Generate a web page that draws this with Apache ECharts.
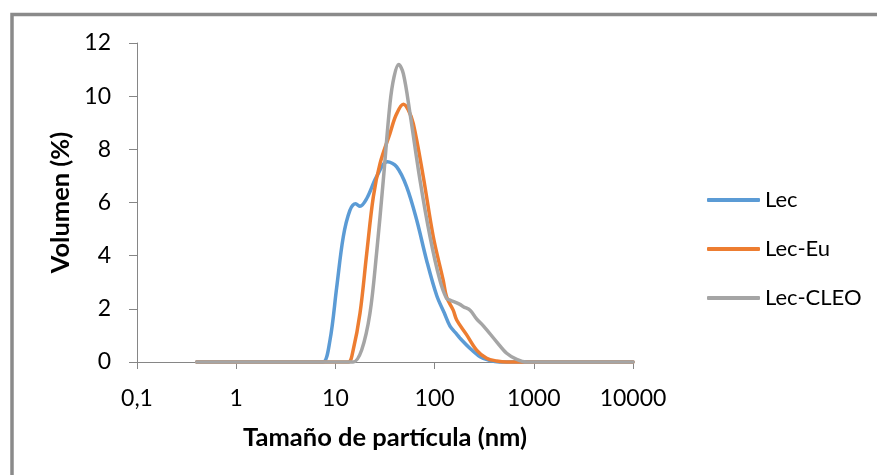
<!DOCTYPE html>
<html style="height: 100%">
<head>
<meta charset="utf-8">
<style type="text/css">
    body, html { width: 100%; height: 100%; margin: 0; overflow: hidden; background: #fff; }
    #chart { width: 877px; height: 475px; }
</style>
</head>
<body>
<div id="chart"></div>
<script type="text/javascript" src="https://cdn.jsdelivr.net/npm/echarts@6/dist/echarts.min.js"></script>
<script type="text/javascript">
// particle size (nm) / volume (%)
var lecX = [0.4, 1, 3, 6, 7.5, 8.8, 10.3, 12, 14, 16, 17.7, 20.7, 26, 33.4, 41.5, 52.3, 66, 83, 105, 125, 143, 167, 180, 228, 287, 362, 450, 700, 1000, 3000, 10000];
var lecY = [0, 0, 0, 0, 0, 0.8, 2.8, 4.7, 5.7, 5.95, 5.86, 6.15, 6.97, 7.53, 7.34, 6.59, 5.34, 3.83, 2.5, 1.85, 1.35, 1.05, 0.9, 0.51, 0.2, 0.05, 0, 0, 0, 0, 0];

var euX = [0.4, 1, 3, 6, 10, 13.5, 15.1, 17.7, 20.7, 24.1, 28.2, 35.5, 41, 48.4, 54, 61, 76.9, 97, 122, 132, 154, 167, 209, 265, 335, 422, 533, 1000, 3000, 10000];
var euY = [0, 0, 0, 0, 0, 0, 0.45, 1.83, 4.09, 6.21, 7.47, 8.6, 9.3, 9.7, 9.5, 8.97, 6.97, 4.71, 3.08, 2.45, 1.95, 1.58, 1.04, 0.45, 0.14, 0.04, 0, 0, 0, 0];

var cleoX = [0.4, 1, 3, 6, 10, 15.1, 18.4, 22.3, 26, 30.4, 35.5, 39, 43.4, 48.4, 56.5, 71.3, 90, 113, 132, 143, 180, 195, 228, 265, 310, 422, 533, 673, 849, 1000, 3000, 10000];
var cleoY = [0, 0, 0, 0, 0, 0, 0.45, 1.83, 4.09, 6.84, 9.72, 10.73, 11.19, 10.85, 9.35, 6.84, 4.71, 3.08, 2.39, 2.33, 2.17, 2.08, 1.95, 1.62, 1.36, 0.76, 0.33, 0.1, 0, 0, 0, 0];

var names = ['Lec', 'Lec-Eu', 'Lec-CLEO'];
var colors = ['#5B9BD5', '#ED7D31', '#A5A5A5'];

function pairs(xs, ys) {
    var out = [];
    for (var i = 0; i < xs.length; i++) out.push([xs[i], ys[i]]);
    return out;
}

var font = 'Lato, "Open Sans", sans-serif';
var axisColor = '#868686';
var chart = echarts.init(document.getElementById('chart'));

var seriesData = [pairs(lecX, lecY), pairs(euX, euY), pairs(cleoX, cleoY)];
var series = [];
for (var i = 0; i < 3; i++) {
    series.push({
        name: names[i],
        type: 'line',
        data: seriesData[i],
        smooth: 0.35,
        showSymbol: false,
        clip: false,
        color: colors[i],
        lineStyle: { width: 3.5, color: colors[i], cap: 'round', join: 'round' }
    });
}

var option = {
    backgroundColor: '#fff',
    animation: false,
    graphic: [{
        type: 'rect',
        shape: { x: 12, y: 14.5, width: 1000, height: 600 },
        style: { fill: 'none', stroke: '#8a8a8a', lineWidth: 3.5 },
        silent: true
    }],
    grid: { left: 137, right: 244, top: 43, bottom: 113 },
    legend: {
        orient: 'vertical',
        left: 702,
        top: 183,
        itemWidth: 53,
        itemHeight: 4,
        itemGap: 25,
        icon: 'roundRect',
        textStyle: { fontFamily: font, fontSize: 22, color: '#000', lineHeight: 24 },
        data: names
    },
    xAxis: {
        type: 'log',
        logBase: 10,
        min: 0.1,
        max: 10000,
        name: 'Tamaño de partícula (nm)',
        nameLocation: 'middle',
        nameGap: 63,
        nameTextStyle: { fontFamily: font, fontSize: 25.5, fontWeight: 'bold', color: '#000' },
        axisLine: { onZero: false, lineStyle: { color: axisColor, width: 1 } },
        axisTick: { show: true, length: 7, lineStyle: { color: axisColor } },
        splitLine: { show: false },
        minorTick: { show: false },
        axisLabel: {
            margin: 25,
            fontFamily: font,
            fontSize: 23,
            color: '#000',
            formatter: function (v) { return String(Number(v.toPrecision(6))).replace('.', ','); }
        }
    },
    yAxis: {
        type: 'value',
        min: 0,
        max: 12,
        interval: 2,
        name: 'Volumen (%)',
        nameLocation: 'middle',
        nameGap: 62,
        nameTextStyle: { fontFamily: font, fontSize: 25.5, fontWeight: 'bold', color: '#000' },
        axisLine: { show: true, lineStyle: { color: axisColor, width: 1 } },
        axisTick: { show: true, length: 8, lineStyle: { color: axisColor } },
        splitLine: { show: false },
        axisLabel: { margin: 26, fontFamily: font, fontSize: 23, color: '#000' }
    },
    series: series
};
chart.setOption(option);
</script>
</body>
</html>
